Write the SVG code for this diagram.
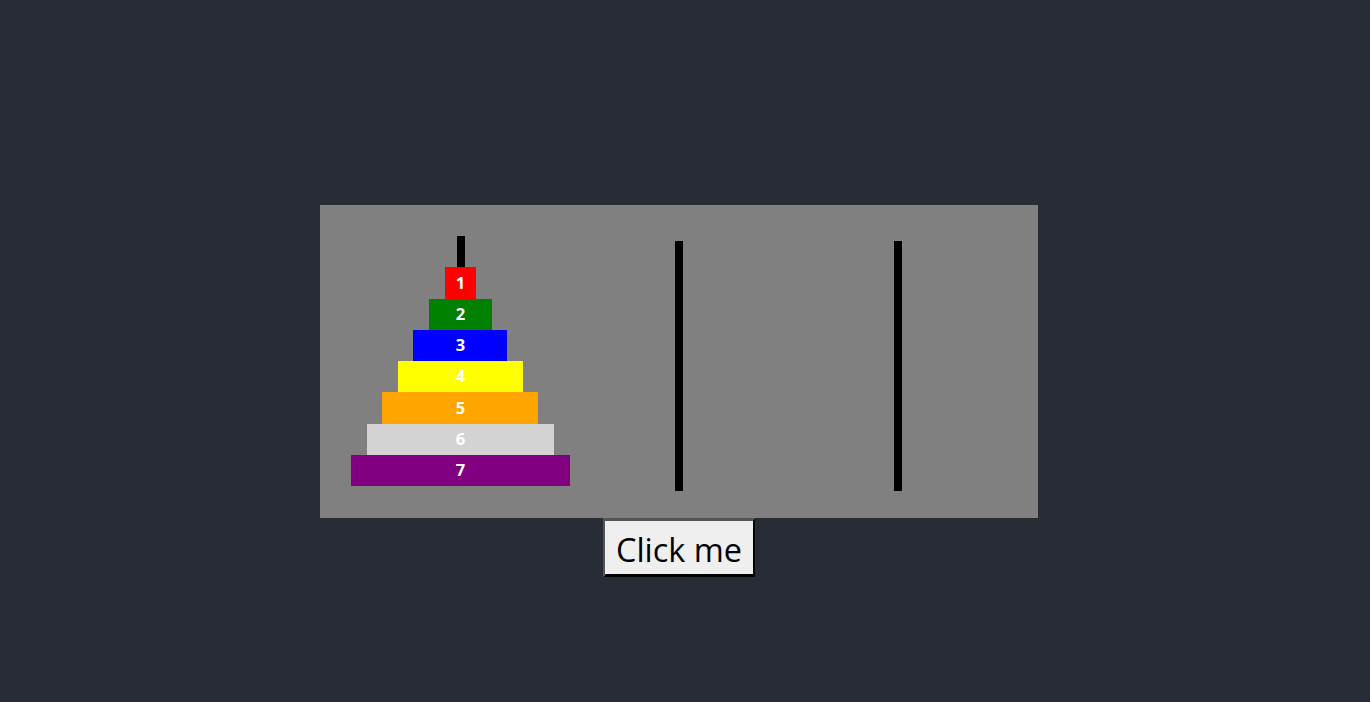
<svg xmlns="http://www.w3.org/2000/svg" width="1370" height="702" viewBox="0 0 1370 702">
<style>
rect,polygon{shape-rendering:crispEdges}
.peg{fill:#000}
.lbl{font-family:"Open Sans","Noto Sans",sans-serif;font-weight:bold;font-size:16.5px;fill:#fff;text-anchor:middle}
.btn{font-family:"Open Sans","Noto Sans",sans-serif;font-size:32px;fill:#000}
</style>
<rect x="0" y="0" width="1370" height="702" fill="#282c34"/>
<g id="board">
<rect x="320" y="205" width="718" height="313" fill="#808080"/>
</g>
<g id="pegs">
<rect id="peg1" class="peg" x="457" y="236" width="7.5" height="250"/>
<rect id="peg2" class="peg" x="675" y="241" width="7.5" height="250"/>
<rect id="peg3" class="peg" x="894" y="241" width="7.5" height="250"/>
</g>
<g id="disk1"><rect x="445" y="267" width="31" height="32" fill="#ff0000"/><text class="lbl" x="460.5" y="288.5">1</text></g>
<g id="disk2"><rect x="429" y="299" width="63" height="31" fill="#008000"/><text class="lbl" x="460.5" y="319.75">2</text></g>
<g id="disk3"><rect x="413" y="330" width="94" height="31" fill="#0000ff"/><text class="lbl" x="460.5" y="351">3</text></g>
<g id="disk4"><rect x="398" y="361" width="125" height="31" fill="#ffff00"/><text class="lbl" x="460.5" y="382.25">4</text></g>
<g id="disk5"><rect x="382" y="392" width="156" height="32" fill="#ffa500"/><text class="lbl" x="460.5" y="413.5">5</text></g>
<g id="disk6"><rect x="367" y="424" width="187" height="31" fill="#d3d3d3"/><text class="lbl" x="460.5" y="444.75">6</text></g>
<g id="disk7"><rect x="351" y="455" width="219" height="31" fill="#800080"/><text class="lbl" x="460.5" y="476">7</text></g>
<g id="button">
<rect x="603" y="518" width="152" height="59" fill="#000"/>
<polygon points="603,518 755,518 752.5,521 605.5,521 605.5,574.5 603,577" fill="#555555"/>
<rect x="605" y="521" width="148" height="53" fill="#efefef"/>
<text class="btn" x="616" y="561.5" textLength="126" lengthAdjust="spacingAndGlyphs">Click me</text>
</g>
</svg>
